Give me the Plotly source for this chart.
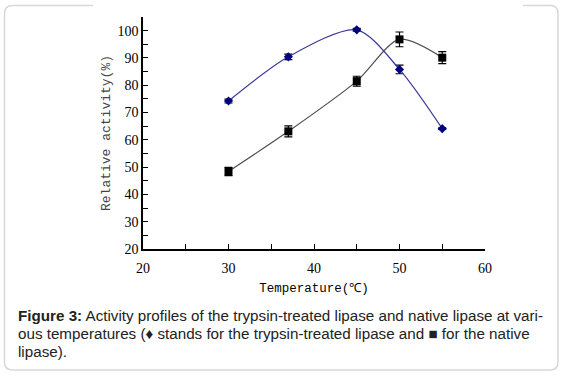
import plotly.graph_objects as go

temperature = [30, 37, 45, 50, 55]
trypsin_treated = [74.2, 90.4, 100.3, 85.8, 64.1]
trypsin_err = [0.7, 1.0, 0.5, 1.6, 0.3]
native = [48.4, 63.1, 81.5, 96.8, 90.1]
native_err = [1.5, 2.0, 1.8, 2.7, 2.2]

x_ticks = [20, 30, 40, 50, 60]
y_ticks = [20, 30, 40, 50, 60, 70, 80, 90, 100]

W, H = 563, 376
L, R, T, B = 143, 485, 17, 249

def px(x):
    return (x - L) / (R - L)

def py(y):
    return (B - y) / (B - T)

fig = go.Figure()

fig.add_trace(go.Scatter(
    x=temperature, y=native, mode="lines+markers",
    line=dict(shape="spline", smoothing=0.8, color="#505050", width=1.2),
    marker=dict(symbol="square", size=8, color="black"),
    error_y=dict(type="data", array=native_err, visible=True,
                 color="black", thickness=1.2, width=4),
    showlegend=False,
))
fig.add_trace(go.Scatter(
    x=temperature, y=trypsin_treated, mode="lines+markers",
    line=dict(shape="spline", smoothing=0.8, color="#3a3a99", width=1.2),
    marker=dict(symbol="diamond", size=7, color="#000080"),
    error_y=dict(type="data", array=trypsin_err, visible=True,
                 color="black", thickness=1.2, width=4),
    showlegend=False,
))

axis_common = dict(
    showline=True, linecolor="black", linewidth=1.5,
    ticks="inside", ticklen=5, tickwidth=1.2, tickcolor="black",
    showgrid=False, zeroline=False,
    tickfont=dict(family="Liberation Serif", size=14, color="black"),
)

fig.update_xaxes(
    range=[20, 60], tickvals=x_ticks, ticklabelstandoff=5,
    minor=dict(dtick=5, ticks="inside", ticklen=5, tickwidth=1.2, tickcolor="black", showgrid=False),
    title=dict(text="Temperature(℃)", font=dict(family="Liberation Mono", size=12.5, color="black"), standoff=9),
    **axis_common,
)
fig.update_yaxes(
    range=[20, 105], tickvals=y_ticks,
    minor=dict(dtick=5, ticks="inside", ticklen=5, tickwidth=1.2, tickcolor="black", showgrid=False),
    title=dict(text="Relative activity(%)", font=dict(family="Liberation Mono", size=13, color="#444"), standoff=4),
    **axis_common,
)

# caption border (rounded box, top edge hidden behind chart image)
r = 8
x0, x1, y0, y1 = 4.5, 558, 5.5, 370
path = (f"M {px(93)},{py(y0)} L {px(x0 + r)},{py(y0)} "
        f"Q {px(x0)},{py(y0)} {px(x0)},{py(y0 + r)} "
        f"L {px(x0)},{py(y1 - r)} Q {px(x0)},{py(y1)} {px(x0 + r)},{py(y1)} "
        f"L {px(x1 - r)},{py(y1)} Q {px(x1)},{py(y1)} {px(x1)},{py(y1 - r)} "
        f"L {px(x1)},{py(y0 + r)} Q {px(x1)},{py(y0)} {px(x1 - r)},{py(y0)} "
        f"L {px(523)},{py(y0)}")
fig.add_shape(type="path", path=path, xref="paper", yref="paper",
              line=dict(color="#d8d8d8", width=1.5))

caption_lines = [
    "<b>Figure 3:</b> Activity profiles of the trypsin-treated lipase and native lipase at vari-",
    "ous temperatures (♦ stands for the trypsin-treated lipase and ■ for the native",
    "lipase).",
]
for i, line in enumerate(caption_lines):
    fig.add_annotation(
        text=line, xref="paper", yref="paper",
        x=px(16), y=py(315 + 18 * i), xanchor="left", yanchor="middle",
        showarrow=False, align="left",
        font=dict(family="Liberation Sans", size=15.2, color="#222"),
    )

fig.update_layout(
    width=W, height=H,
    margin=dict(l=L, r=W - R, t=T, b=H - B),
    paper_bgcolor="white", plot_bgcolor="white",
)

fig.write_html("out.html", config={"displayModeBar": False},
               post_script="document.body.style.margin='0';document.body.style.overflow='hidden';")
